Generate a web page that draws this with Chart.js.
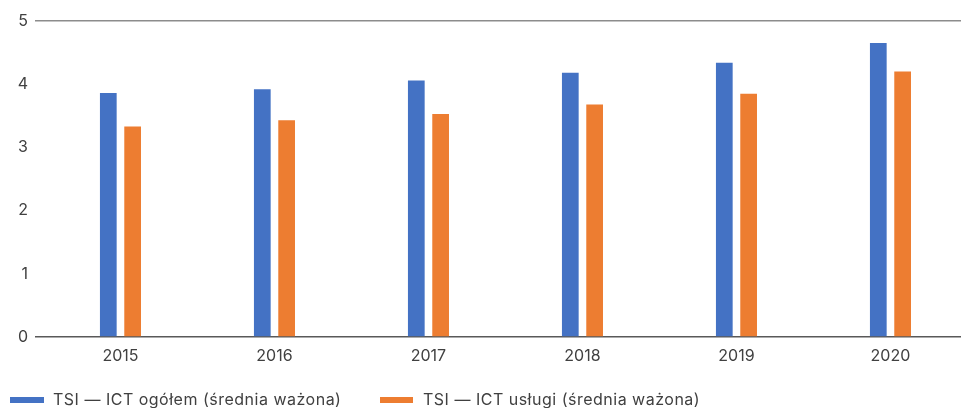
<!DOCTYPE html>
<html>
<head>
<meta charset="utf-8">
<script src="https://cdn.jsdelivr.net/npm/chart.js@4/dist/chart.umd.min.js"></script>
<style>
  html, body { margin: 0; padding: 0; background: #ffffff; }
  #wrap { position: relative; width: 961px; height: 408px; overflow: hidden; }
  #c { position: absolute; left: 0; top: 0; }
  #legend { position: absolute; left: 0; top: 388px; width: 961px; height: 20px;
            font-family: "Inter", sans-serif; font-size: 16px; letter-spacing: 0.5px; color: #404040; }
  .sw { position: absolute; top: 9px; height: 6px; }
  .lt { position: absolute; top: 0; line-height: 22px; white-space: nowrap; }
</style>
</head>
<body>
<div id="wrap">
  <canvas id="c" width="961" height="408"></canvas>
  <div id="legend"></div>
</div>
<script>
const categories = ['2015', '2016', '2017', '2018', '2019', '2020'];
const seriesNames = ['TSI — ICT ogółem (średnia ważona)', 'TSI — ICT usługi (średnia ważona)'];
const ictTotal = [3.86, 3.92, 4.06, 4.18, 4.34, 4.65];
const ictServices = [3.33, 3.43, 3.53, 3.68, 3.85, 4.20];
const yTicks = [0, 1, 2, 3, 4, 5];
const colors = ['#4472C4', '#ED7D31'];

const toPoints = arr => arr.map((v, i) => ({ x: Number(categories[i]), y: v }));

const chart = new Chart(document.getElementById('c'), {
  type: 'bar',
  data: {
    datasets: [
      { label: seriesNames[0], data: toPoints(ictTotal), backgroundColor: colors[0],
        categoryPercentage: 0.316, barPercentage: 0.687 },
      { label: seriesNames[1], data: toPoints(ictServices), backgroundColor: colors[1],
        categoryPercentage: 0.316, barPercentage: 0.687 }
    ]
  },
  options: {
    responsive: false,
    animation: false,
    layout: { padding: { top: 21, right: 0, bottom: 26, left: 0 } },
    plugins: { legend: { display: false }, tooltip: { enabled: false } },
    scales: {
      x: {
        type: 'linear',
        offset: false,
        min: Number(categories[0]) - 0.555,
        max: Number(categories[categories.length - 1]) + 0.458,
        border: { display: false },
        grid: { display: false, drawTicks: false, offset: false },
        ticks: {
          stepSize: 1,
          includeBounds: false,
          padding: 10,
          color: '#404040',
          font: { family: 'Inter', size: 16 },
          callback: v => categories.includes(String(v)) ? String(v) : ''
        },
        afterFit: s => { s.height = 45; }
      },
      y: {
        min: yTicks[0],
        max: yTicks[yTicks.length - 1],
        border: { display: false },
        grid: {
          drawTicks: false,
          lineWidth: 1.5,
          color: ctx => ctx.tick && ctx.tick.value === 0 ? '#595959'
                      : (ctx.tick && ctx.tick.value === 5 ? '#8c8c8c' : 'rgba(0,0,0,0)')
        },
        ticks: {
          stepSize: 1,
          padding: 7,
          color: '#404040',
          font: { family: 'Inter', size: 16 }
        },
        afterFit: s => { s.width = 35; }
      }
    }
  }
});

// HTML legend built from the chart's datasets
const legendEl = document.getElementById('legend');
const legendPos = [{ sw: 10, w: 34, tx: 53 }, { sw: 380, w: 33, tx: 423 }];
chart.data.datasets.forEach((ds, i) => {
  const sw = document.createElement('div');
  sw.className = 'sw';
  sw.style.left = legendPos[i].sw + 'px';
  sw.style.width = legendPos[i].w + 'px';
  sw.style.background = ds.backgroundColor;
  const t = document.createElement('div');
  t.className = 'lt';
  t.style.left = legendPos[i].tx + 'px';
  t.textContent = ds.label;
  legendEl.appendChild(sw);
  legendEl.appendChild(t);
});
</script>
</body>
</html>
